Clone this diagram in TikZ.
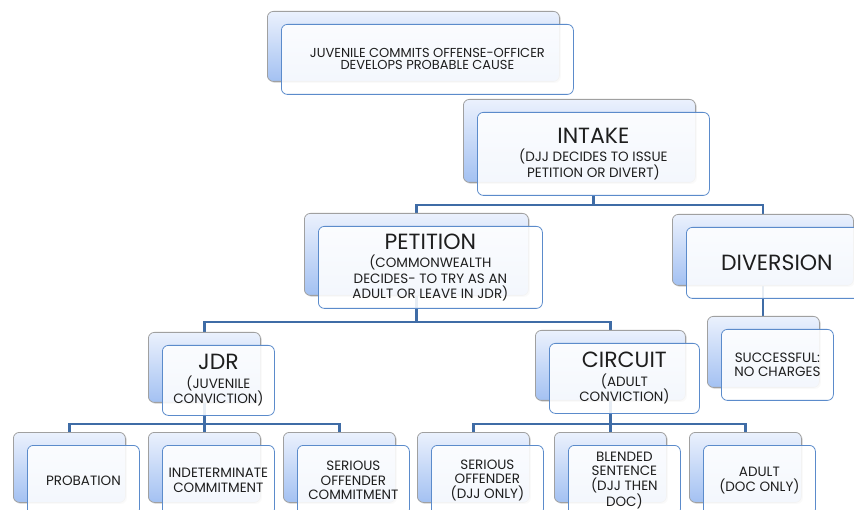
\documentclass[tikz,border=0pt]{standalone}
\usepackage{fontspec}
\setmainfont{Poppins}
\usepackage{tikz}
\usetikzlibrary{calc,backgrounds,shadows}
\definecolor{backtop}{HTML}{EBF1FD}
\definecolor{backbot}{HTML}{A3C1F2}
\definecolor{backline}{HTML}{A0A0A0}
\definecolor{frontline}{HTML}{5B8BCB}
\definecolor{linkblue}{HTML}{3F6CA6}
\definecolor{textgrey}{HTML}{1E1E1E}
\tikzset{
  backbox/.style={anchor=north west, rounded corners=6pt, draw=backline, line width=0.8pt,
    top color=backtop, bottom color=backbot, inner sep=0pt,
    drop shadow={shadow xshift=1.5pt, shadow yshift=-1.5pt, opacity=0.25}},
  frontbox/.style={anchor=north west, rounded corners=6pt, draw=frontline, line width=0.8pt,
    fill=white, fill opacity=0.88, text opacity=1, inner sep=0pt, align=center,
    text=textgrey, font=\fontsize{13.5}{15.5}\selectfont},
  link/.style={draw=linkblue, line width=2.5pt},
  smalltext/.style={font=\fontsize{13.5}{14.5}\selectfont},
  toptext/.style={font=\fontsize{13}{12}\selectfont}
}
\newcommand*{\Head}[1]{{\fontsize{22}{22}\selectfont #1}\\[3pt]}
\newcommand*{\OrgBox}[7][]{% #1 = extra style, #2 = name, #3/#4 = top left of back box, #5/#6 = size, #7 = text
\node [backbox, minimum width=#5pt, minimum height=#6pt] (#2b) at (#3,#4) {};
\node [frontbox, minimum width=#5pt, minimum height=#6pt, #1] (#2) at (#3+14,#4+13) {#7};
}

\begin{document}
\begin{tikzpicture}[x=1pt,y=-1pt]

            \path[use as bounding box] (0,0) rectangle (854,510);
            \clip (0,0) rectangle (854,510);
            \OrgBox[toptext]{offence}{267}{11}{292}{70}{JUVENILE COMMITS OFFENSE-OFFICER\\DEVELOPS PROBABLE CAUSE}
            \OrgBox{intake}{463}{99}{232}{83}{\Head{INTAKE}(DJJ DECIDES TO ISSUE\\PETITION OR DIVERT)}
            \OrgBox{petition}{304}{213}{224}{82}{\Head{PETITION}(COMMONWEALTH\\DECIDES- TO TRY AS AN\\ADULT OR LEAVE IN JDR)}
            \OrgBox{diversion}{672}{214}{181}{71}{{\fontsize{22}{22}\selectfont DIVERSION}}
            \OrgBox[smalltext]{success}{707}{316}{112}{71}{SUCCESSFUL:\\NO CHARGES}
            \OrgBox{jdr}{148}{332}{112}{70}{\Head{JDR}(JUVENILE\\CONVICTION)}
            \OrgBox{circuit}{535}{330}{150}{70}{\Head{CIRCUIT}(ADULT\\CONVICTION)}
            \OrgBox[smalltext]{probation}{13}{432}{112}{70}{PROBATION}
            \OrgBox[smalltext]{indeterminate}{148}{432}{112}{70}{INDETERMINATE\\COMMITMENT}
            \OrgBox[smalltext]{seriouscomm}{283}{432}{112}{70}{SERIOUS\\OFFENDER\\COMMITMENT}
            \OrgBox[smalltext]{seriousdjj}{417}{432}{112}{70}{SERIOUS\\OFFENDER\\(DJJ ONLY)}
            \OrgBox[smalltext]{blended}{554}{432}{112}{70}{BLENDED\\SENTENCE\\(DJJ THEN\\DOC)}
            \OrgBox[smalltext]{adult}{689}{432}{112}{70}{ADULT\\(DOC ONLY)}
            \begin{scope}[on background layer]
            \draw[link] (intake.south) -- ++(0,9) -| (petitionb.north);
            \draw[link] (intake.south) -- ++(0,9) -| (diversionb.north);
            \draw[link] (diversionb.south) -- (diversionb.south |- successb.north);
            \draw[link] (petitionb.south) -- ++(0,26) -| (jdrb.north);
            \draw[link] (petitionb.south) -- ++(0,26) -| (circuitb.north);
            \draw[link] (jdrb.south) -- ++(0,21) -| (probationb.north);
            \draw[link] (jdrb.south) -- ++(0,21) -| (indeterminateb.north);
            \draw[link] (jdrb.south) -- ++(0,21) -| (seriouscommb.north);
            \draw[link] (circuitb.south) -- ++(0,23) -| (seriousdjjb.north);
            \draw[link] (circuitb.south) -- ++(0,23) -| (blendedb.north);
            \draw[link] (circuitb.south) -- ++(0,23) -| (adultb.north);
            \end{scope}
        \end{tikzpicture}
\end{document}
